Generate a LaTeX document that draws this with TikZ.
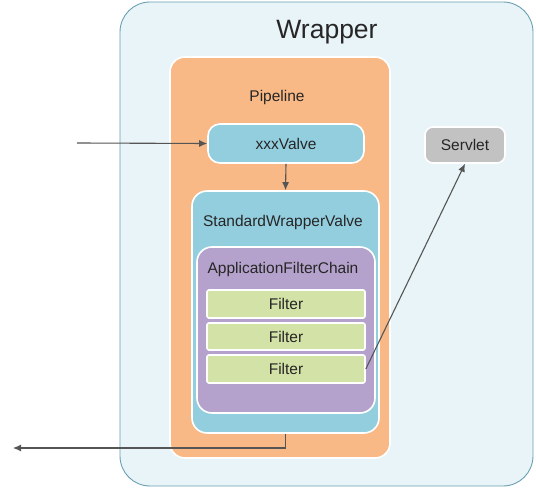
\documentclass[tikz,border=0pt]{standalone}
\usepackage{fontspec}
\setmainfont{Liberation Sans}
\usetikzlibrary{arrows.meta}
\definecolor{wrapfill}{HTML}{E9F4F8}
\definecolor{wrapline}{HTML}{6A9FB3}
\definecolor{pipefill}{HTML}{F8B986}
\definecolor{valvefill}{HTML}{93CEDF}
\definecolor{chainfill}{HTML}{B4A2CC}
\definecolor{filterfill}{HTML}{D3E2A6}
\definecolor{servfill}{HTML}{C2C2C2}
\definecolor{txt}{HTML}{262626}
\definecolor{arr}{HTML}{555555}
\begin{document}
\begin{tikzpicture}[x=1pt,y=-1pt,
  box/.style={draw=white,line width=1.6pt,inner sep=0pt,rounded corners=#1},
  box/.default=12pt,
  lbl/.style={text=txt,font=\fontsize{15.5}{17}\selectfont,inner sep=0pt},
  conn/.style={draw=arr,line width=1.1pt,-{Latex[length=8pt,width=7pt]}}]
\useasboundingbox (0,0) rectangle (536,489);
\node[draw=wrapline,line width=0.9pt,fill=wrapfill,rounded corners=30pt,minimum width=413pt,minimum height=484pt,inner sep=0pt] (wrapper) at (326.5,244) {};
\node[text=txt,font=\fontsize{26.5}{30}\selectfont,inner sep=0pt] (wlabel) at (327,32) {Wrapper};
\node[box=15pt,fill=pipefill,minimum width=220pt,minimum height=401pt] (pipe) at (280,257.5) {};
\node[lbl] (plabel) at (277,97) {Pipeline};
\node[box=12pt,fill=valvefill,minimum width=156pt,minimum height=39pt,lbl] (valve) at (286,143.5) {xxxValve};
\node[box=15pt,fill=valvefill,minimum width=187pt,minimum height=242pt] (swv) at (285.5,312) {};
\node[lbl] (swvlabel) at (283,222) {StandardWrapperValve};
\node[box=15pt,fill=chainfill,minimum width=178pt,minimum height=166pt] (afc) at (286,330) {};
\node[lbl] (afclabel) at (283,269) {ApplicationFilterChain};
\node[box=2pt,fill=filterfill,minimum width=158pt,minimum height=28pt,lbl] (f1) at (286,304) {Filter};
\node[box=2pt,fill=filterfill,minimum width=158pt,minimum height=27pt,lbl] (f2) at (286,336.5) {Filter};
\node[box=2pt,fill=filterfill,minimum width=158pt,minimum height=28pt,lbl] (f3) at (286,369) {Filter};
\node[box=8pt,fill=servfill,minimum width=80pt,minimum height=36pt,lbl] (servlet) at (465,145) {Servlet};
\coordinate (in) at (77,143);
\coordinate (out) at (13,448);
\draw[conn] (in) -- (valve.west);
\draw[conn] (valve.south) -- (swv.north);
\draw[conn] (f3.east) -- (servlet.south);
\draw[conn] (swv.south) |- (out);
\end{tikzpicture}
\end{document}
